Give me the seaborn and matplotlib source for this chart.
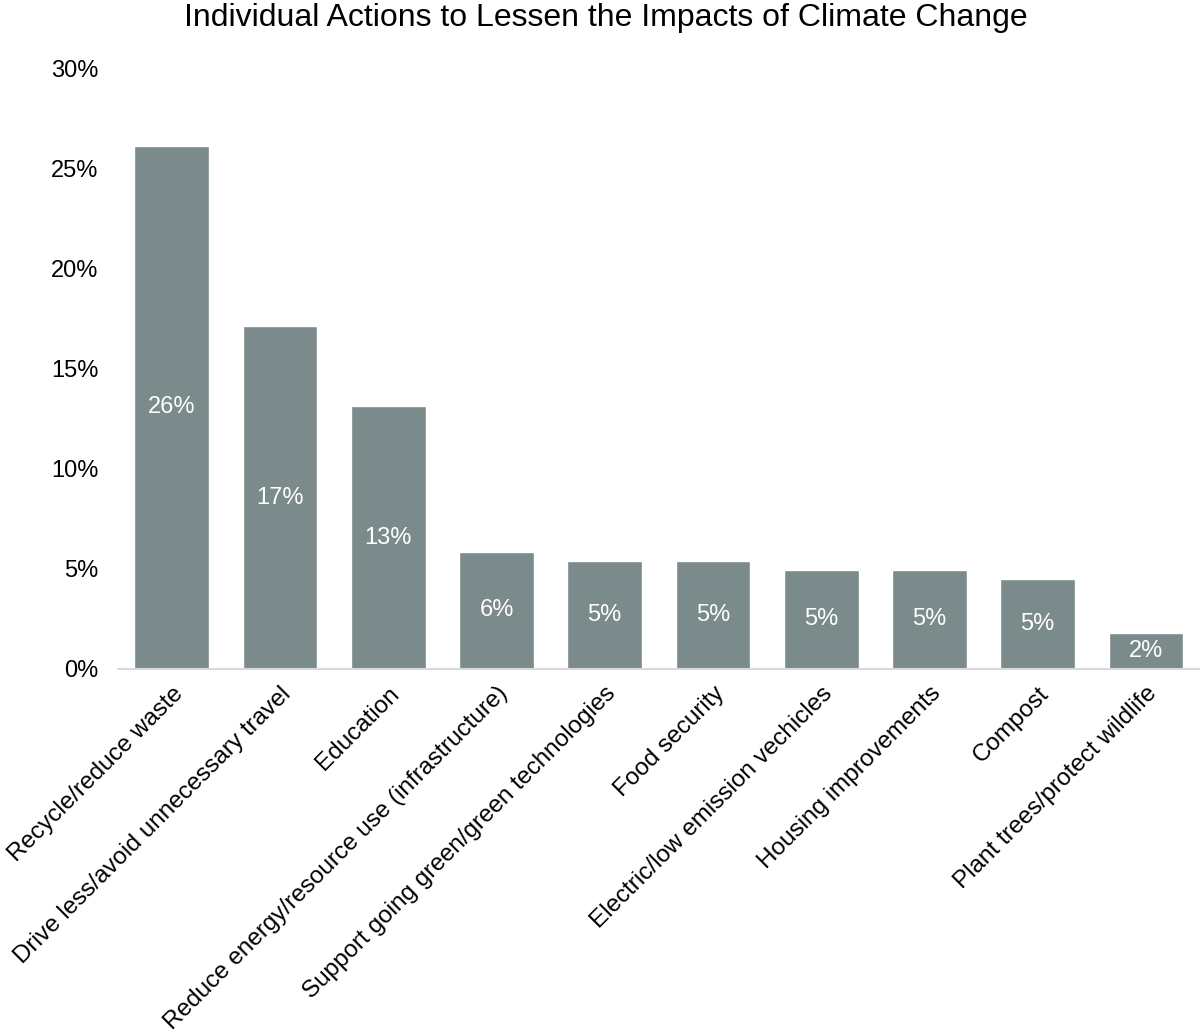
import pandas as pd
import matplotlib.pyplot as plt
import seaborn as sns

categories = [
    'Recycle/reduce waste',
    'Drive less/avoid unnecessary travel',
    'Education',
    'Reduce energy/resource use (infrastructure)',
    'Support going green/green technologies',
    'Food security',
    'Electric/low emission vechicles',
    'Housing improvements',
    'Compost',
    'Plant trees/protect wildlife',
]
shares = [26.1, 17.1, 13.1, 5.85, 5.4, 5.4, 4.95, 4.95, 4.5, 1.8]
labels = ['26%', '17%', '13%', '6%', '5%', '5%', '5%', '5%', '5%', '2%']

df = pd.DataFrame({'action': categories, 'share': shares})

sns.set_style('white')
plt.rcParams['font.family'] = ['Liberation Sans', 'DejaVu Sans']
plt.rcParams['text.color'] = 'black'
plt.rcParams['xtick.color'] = 'black'
plt.rcParams['ytick.color'] = 'black'

fig = plt.figure(figsize=(12, 10.32), dpi=100)
ax = fig.add_axes([0.098, 0.352, 0.902, 0.582])

sns.barplot(data=df, x='action', y='share', color='#7b8b8b', saturation=1,
            width=0.69, ax=ax)

# value labels in the middle of each bar
for i, (v, lab) in enumerate(zip(shares, labels)):
    ax.text(i, v / 2, lab, ha='center', va='center', color='white', fontsize=17)

ax.set_ylim(0, 30)
ax.set_xlim(-0.5, 9.5)
ax.set_yticks([0, 5, 10, 15, 20, 25, 30])
ax.set_yticklabels([f'{t}%' for t in [0, 5, 10, 15, 20, 25, 30]], fontsize=17)
ax.set_xticks(range(len(categories)))
ax.set_xticklabels(categories, rotation=45, ha='right', rotation_mode='anchor', fontsize=17.5)
ax.tick_params(axis='y', length=0, pad=14)
ax.tick_params(axis='x', length=0, pad=10)
ax.set_xlabel('')
ax.set_ylabel('')

for s in ['top', 'right', 'left']:
    ax.spines[s].set_visible(False)
ax.spines['bottom'].set_color('#d9d9d9')
ax.spines['bottom'].set_linewidth(1.5)

fig.suptitle('Individual Actions to Lessen the Impacts of Climate Change',
             fontsize=23, y=0.997, va='top', x=0.505)

plt.savefig('out.png', dpi=100)
plt.close()
